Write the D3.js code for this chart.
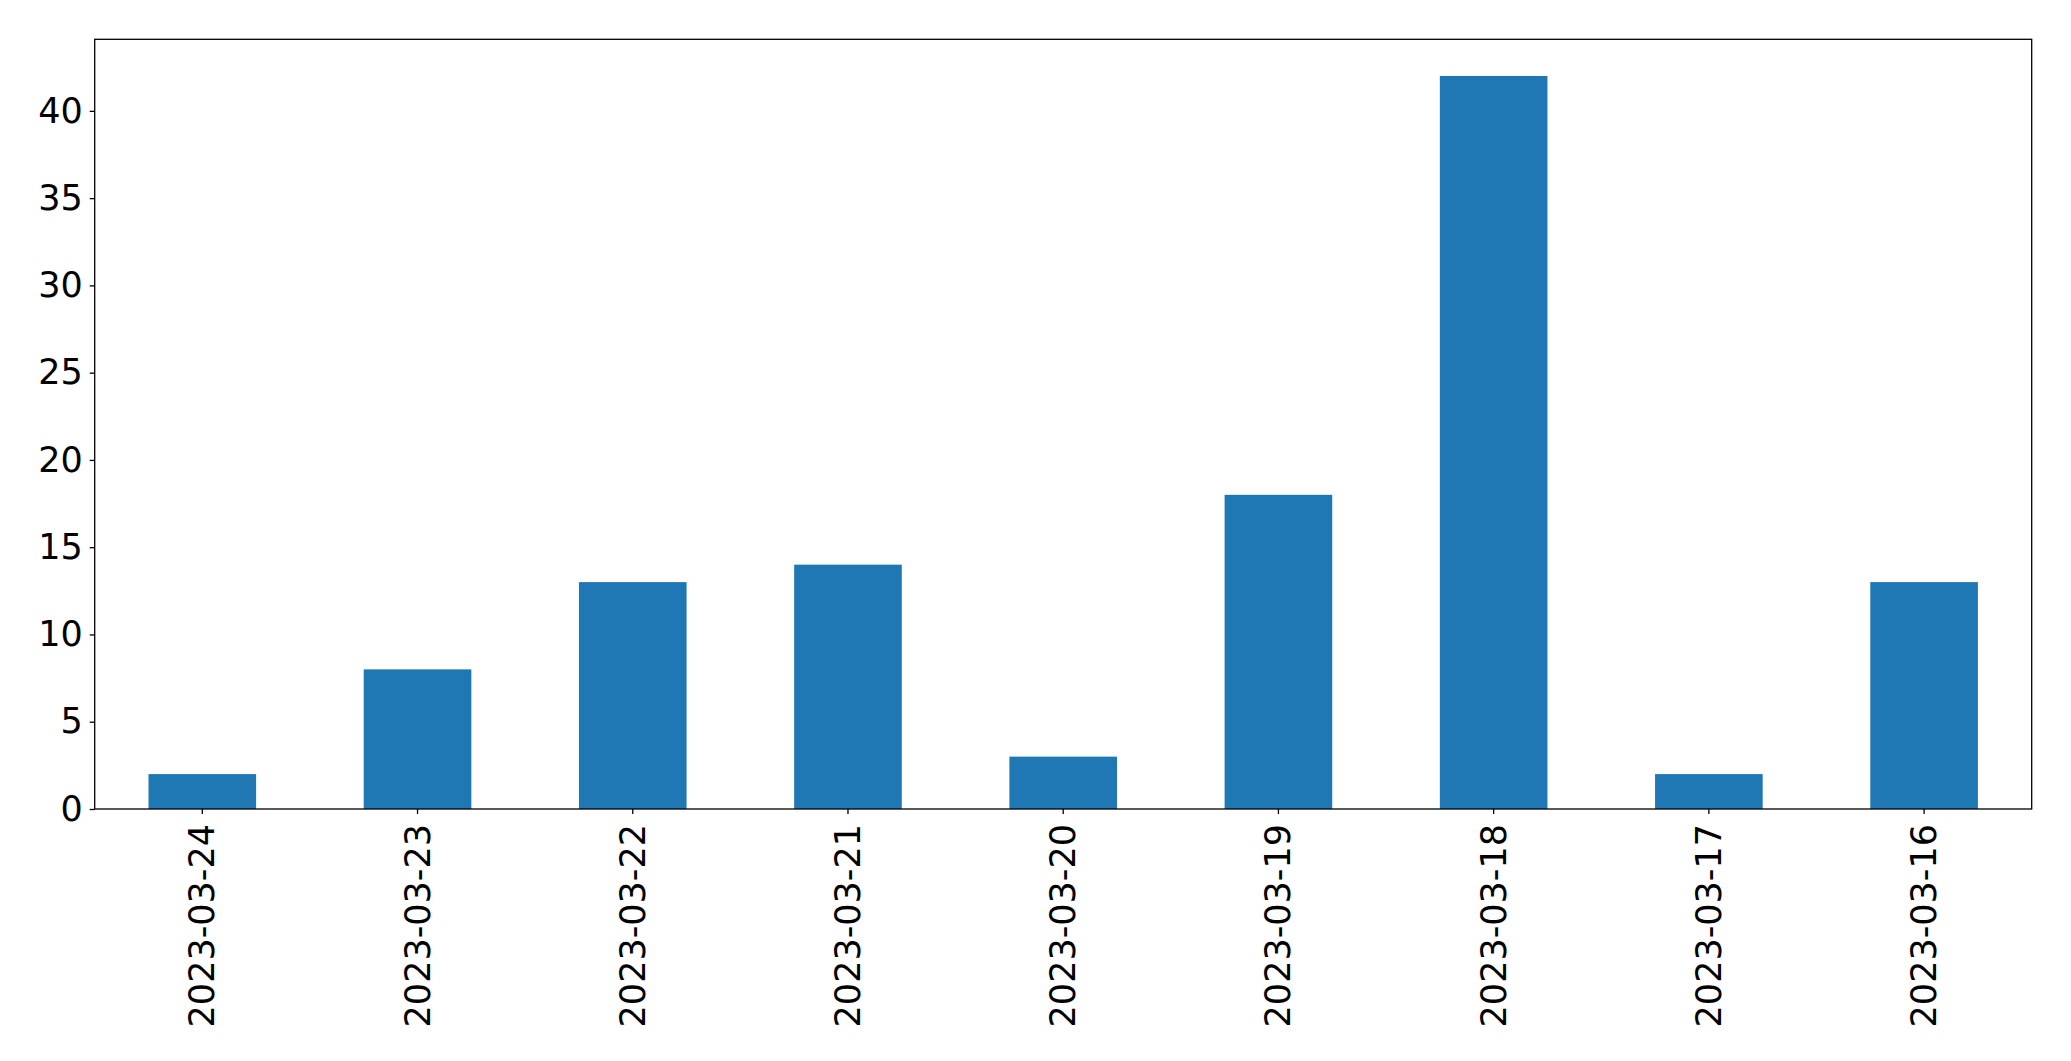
<!DOCTYPE html>
<html><head><meta charset="utf-8">
<script src="https://cdn.jsdelivr.net/npm/d3@7"></script>
<style>body{margin:0;background:#fff}svg{display:block}</style>
</head><body>
<script>
const categories = ["2023-03-24","2023-03-23","2023-03-22","2023-03-21","2023-03-20","2023-03-19","2023-03-18","2023-03-17","2023-03-16"];
const values = [2, 8, 13, 14, 3, 18, 42, 2, 13];
const yTicks = [0, 5, 10, 15, 20, 25, 30, 35, 40];

const W = 2071, H = 1061;
const m = {left: 94.7, top: 39.3, right: 2071 - 2031.7, bottom: 1061 - 809};
const iw = W - m.left - m.right, ih = H - m.top - m.bottom;

const svg = d3.select("body").append("svg").attr("width", W).attr("height", H);
const g = svg.append("g").attr("transform", `translate(${m.left},${m.top})`);

const x = d3.scaleBand().domain(categories).range([0, iw]).paddingInner(0.5).paddingOuter(0.25);
const y = d3.scaleLinear().domain([0, d3.max(values) * 1.05]).range([ih, 0]);

g.selectAll("rect.bar").data(categories).join("rect")
  .attr("class", "bar")
  .attr("x", d => x(d)).attr("width", x.bandwidth())
  .attr("y", (d, i) => y(values[i])).attr("height", (d, i) => ih - y(values[i]))
  .attr("fill", "#1f77b4");

const font = "'DejaVu Sans', sans-serif";

const ya = g.append("g").call(d3.axisLeft(y).tickValues(yTicks).tickSize(5).tickPadding(7).tickFormat(d3.format("d")));
ya.select(".domain").remove();
ya.selectAll("line").attr("stroke", "#000").attr("stroke-width", 1.3);
ya.selectAll("text").attr("font-family", font).attr("font-size", 35).attr("fill", "#000");

const xa = g.append("g").attr("transform", `translate(0,${ih})`)
  .call(d3.axisBottom(x).tickSize(5).tickPadding(0));
xa.select(".domain").remove();
xa.selectAll("line").attr("stroke", "#000").attr("stroke-width", 1.3);
xa.selectAll("text")
  .attr("font-family", font).attr("font-size", 35).attr("fill", "#000")
  .attr("text-anchor", "end").attr("dy", null).attr("y", null)
  .attr("dominant-baseline", "central")
  .attr("transform", "translate(0,15) rotate(-90)");

g.append("rect").attr("x", 0).attr("y", 0).attr("width", iw).attr("height", ih)
  .attr("fill", "none").attr("stroke", "#000").attr("stroke-width", 1.3);
</script>
</body></html>
